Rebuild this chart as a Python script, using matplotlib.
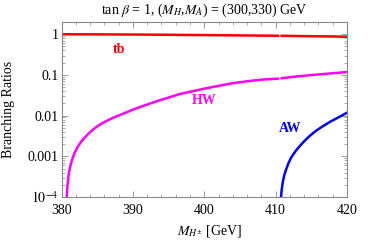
import matplotlib
matplotlib.use("Agg")
import matplotlib.pyplot as plt
from matplotlib.ticker import FixedLocator, LogLocator, NullFormatter, MultipleLocator

plt.rcParams['font.family'] = ['Liberation Serif', 'DejaVu Serif']
plt.rcParams['mathtext.fontset'] = 'stix'

# H+ -> t b  (two pieces, gap where the AW channel opens)
tb_m1 = [380, 385, 390, 395, 400, 405, 410.35]
tb_br1 = [0.9999, 0.993, 0.984, 0.970, 0.954, 0.935, 0.919]
tb_m2 = [410.85, 413, 415, 418, 420]
tb_br2 = [0.917, 0.905, 0.895, 0.882, 0.870]

# H+ -> H W
hw_m1 = [380.68, 380.73, 380.8, 381.0, 381.2, 381.4, 381.65, 381.9, 382.2, 382.6,
         383.05, 383.7, 384.45, 385.1, 385.85, 387.25, 388.66, 390.5, 391.9, 393.8,
         396.6, 400, 403.6, 406, 408.2, 410.35]
hw_br1 = [5.9e-5, 1e-4, 1.6e-4, 3.5e-4, 5.4e-4, 7.4e-4, 1.0e-3, 1.28e-3, 1.62e-3, 2.1e-3,
          2.64e-3, 3.5e-3, 4.6e-3, 5.6e-3, 6.75e-3, 8.9e-3, 0.0112, 0.0152, 0.0185, 0.024,
          0.034, 0.046, 0.061, 0.070, 0.077, 0.081]
hw_m2 = [410.85, 413, 416, 418, 420]
hw_br2 = [0.083, 0.092, 0.103, 0.110, 0.118]

# H+ -> A W
aw_m = [410.72, 410.76, 410.85, 411.0, 411.2, 411.5, 411.8, 412.2, 412.8, 413.4,
        414.1, 414.8, 415.7, 416.7, 417.6, 418.5, 419.3, 420]
aw_br = [7e-5, 1e-4, 1.5e-4, 2.3e-4, 3.4e-4, 4.9e-4, 6.8e-4, 9.5e-4, 1.35e-3, 1.8e-3,
         2.45e-3, 3.2e-3, 4.3e-3, 5.6e-3, 7.0e-3, 8.5e-3, 1.01e-2, 0.0118]

fig = plt.figure(figsize=(3.74, 2.41), dpi=100)
ax = fig.add_axes([61.5 / 374, 1 - 197 / 241, (347 - 61.5) / 374, (197 - 22) / 241])

lw = 1.8
ax.plot(tb_m1, tb_br1, color='#FF0000', lw=lw)
ax.plot(tb_m2, tb_br2, color='#FF0000', lw=lw)
ax.plot(hw_m1, hw_br1, color='#FF00FF', lw=lw)
ax.plot(hw_m2, hw_br2, color='#FF00FF', lw=lw)
ax.plot(aw_m, aw_br, color='#0000FF', lw=lw)

ax.set_yscale('log')
ax.set_xlim(380, 420)
ax.set_ylim(1e-4, 2.0)

ax.xaxis.set_major_locator(MultipleLocator(10))
ax.xaxis.set_minor_locator(MultipleLocator(2))
ax.yaxis.set_major_locator(FixedLocator([1e-4, 1e-3, 1e-2, 0.1, 1]))
ax.yaxis.set_minor_locator(LogLocator(base=10, subs=range(2, 10), numticks=20))
ax.yaxis.set_minor_formatter(NullFormatter())
ax.set_yticklabels([r'$10^{-4}$', '0.001', '0.01', '0.1', '1'])

ax.tick_params(which='both', direction='in', top=True, right=True,
               color='#888888', labelsize=10)
ax.tick_params(axis='x', which='major', pad=5)
ax.tick_params(axis='y', which='major', pad=2)
ax.tick_params(which='major', length=4, width=0.6)
ax.tick_params(which='minor', length=2, width=0.5)
for s in ax.spines.values():
    s.set_color('#888888')
    s.set_linewidth(0.8)

ax.set_title(r'tan $\beta$ = 1, ($M_H$,$M_A$) = (300,330) GeV', fontsize=10, pad=6)
ax.set_xlabel(r'$M_{H^{\pm}}$ [GeV]', fontsize=10)
ax.xaxis.set_label_coords(0.52, -0.15)
ax.set_ylabel('Branching Ratios', fontsize=10)
ax.yaxis.set_label_coords(-0.163, 0.5)

def px(x, y):
    return ((x - 61.5) / (347 - 61.5), (197 - y) / 175)

ax.text(*px(119, 49.5), 'tb', color='#FF0000', fontweight='bold', fontsize=10,
        ha='center', va='center', transform=ax.transAxes)
ax.text(*px(204, 101), 'HW', color='#FF00FF', fontweight='bold', fontsize=10,
        ha='center', va='center', transform=ax.transAxes)
ax.text(*px(290, 128.5), 'AW', color='#0000FF', fontweight='bold', fontsize=10,
        ha='center', va='center', transform=ax.transAxes)

fig.savefig('out.png', dpi=100)
